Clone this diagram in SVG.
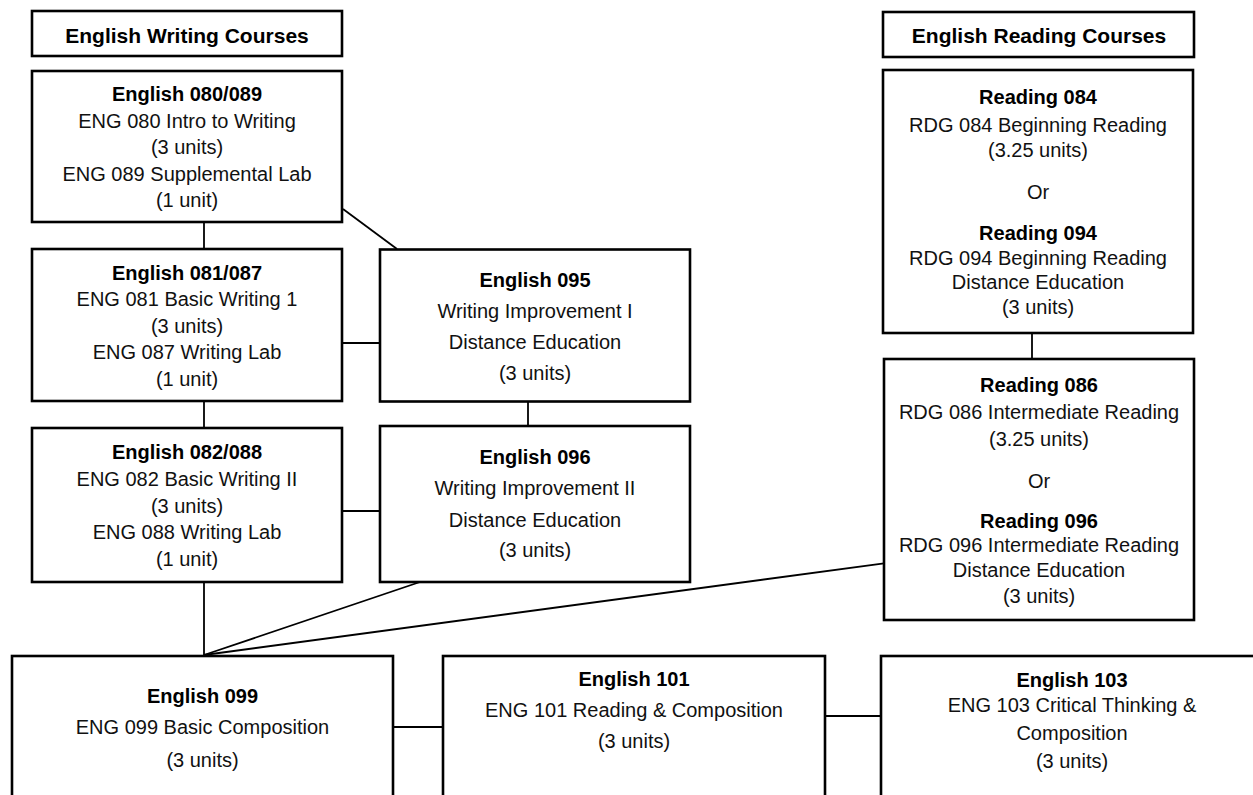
<svg xmlns="http://www.w3.org/2000/svg" width="1253" height="795" viewBox="0 0 1253 795">
<style>
.box{fill:#fff;stroke:#000;stroke-width:2.6}
.ln{stroke:#000;stroke-width:1.8;fill:none}
text{font-family:"Liberation Sans",Arial,sans-serif;font-size:20px;fill:#111;text-anchor:middle}
.b{font-weight:bold;fill:#000}
.t{font-weight:bold;font-size:21px;fill:#000}
</style>
<rect width="1253" height="795" fill="#fff"/>
<g id="connectors">
<line class="ln" x1="204" y1="222" x2="204" y2="249"/>
<line class="ln" x1="343" y1="209" x2="397" y2="249"/>
<line class="ln" x1="342" y1="343" x2="380" y2="343"/>
<line class="ln" x1="204" y1="401" x2="204" y2="428"/>
<line class="ln" x1="528" y1="402" x2="528" y2="426"/>
<line class="ln" x1="342" y1="511" x2="380" y2="511"/>
<line class="ln" x1="204" y1="582" x2="204" y2="655"/>
<line class="ln" x1="420" y1="582" x2="204" y2="655"/>
<line class="ln" x1="884" y1="563.3" x2="204" y2="655"/>
<line class="ln" x1="1032" y1="333" x2="1032" y2="359"/>
<line class="ln" x1="393" y1="727" x2="443" y2="727"/>
<line class="ln" x1="825" y1="716" x2="881" y2="716"/>
</g>
<g id="title-writing">
<rect class="box" x="32" y="11" width="310" height="45"/>
<text class="t" x="187" y="43">English Writing Courses</text>
</g>
<g id="title-reading">
<rect class="box" x="883" y="12" width="311" height="45"/>
<text class="t" x="1039" y="43">English Reading Courses</text>
</g>
<g id="eng080">
<rect class="box" x="32" y="71" width="310" height="151"/>
<text class="b" x="187" y="100.5">English 080/089</text>
<text x="187" y="127.5">ENG 080 Intro to Writing</text>
<text x="187" y="154">(3 units)</text>
<text x="187" y="180.5">ENG 089 Supplemental Lab</text>
<text x="187" y="206.5">(1 unit)</text>
</g>
<g id="eng081">
<rect class="box" x="32" y="249" width="310" height="152"/>
<text class="b" x="187" y="279.5">English 081/087</text>
<text x="187" y="306">ENG 081 Basic Writing 1</text>
<text x="187" y="332.5">(3 units)</text>
<text x="187" y="359">ENG 087 Writing Lab</text>
<text x="187" y="386">(1 unit)</text>
</g>
<g id="eng082">
<rect class="box" x="32" y="428" width="310" height="154"/>
<text class="b" x="187" y="459">English 082/088</text>
<text x="187" y="485.5">ENG 082 Basic Writing II</text>
<text x="187" y="512.5">(3 units)</text>
<text x="187" y="539">ENG 088 Writing Lab</text>
<text x="187" y="566">(1 unit)</text>
</g>
<g id="eng095">
<rect class="box" x="380" y="249.5" width="310" height="152"/>
<text class="b" x="535" y="286.5">English 095</text>
<text x="535" y="318">Writing Improvement I</text>
<text x="535" y="349">Distance Education</text>
<text x="535" y="380">(3 units)</text>
</g>
<g id="eng096">
<rect class="box" x="380" y="426" width="310" height="156"/>
<text class="b" x="535" y="464">English 096</text>
<text x="535" y="495">Writing Improvement II</text>
<text x="535" y="526.5">Distance Education</text>
<text x="535" y="557">(3 units)</text>
</g>
<g id="rdg084">
<rect class="box" x="883" y="70" width="310" height="263"/>
<text class="b" x="1038" y="103.5">Reading 084</text>
<text x="1038" y="131.5">RDG 084 Beginning Reading</text>
<text x="1038" y="156.5">(3.25 units)</text>
<text x="1038" y="199">Or</text>
<text class="b" x="1038" y="239.5">Reading 094</text>
<text x="1038" y="265">RDG 094 Beginning Reading</text>
<text x="1038" y="288.5">Distance Education</text>
<text x="1038" y="314">(3 units)</text>
</g>
<g id="rdg086">
<rect class="box" x="884" y="359" width="310" height="261"/>
<text class="b" x="1039" y="392">Reading 086</text>
<text x="1039" y="419">RDG 086 Intermediate Reading</text>
<text x="1039" y="445.5">(3.25 units)</text>
<text x="1039" y="488">Or</text>
<text class="b" x="1039" y="528">Reading 096</text>
<text x="1039" y="551.5">RDG 096 Intermediate Reading</text>
<text x="1039" y="576.5">Distance Education</text>
<text x="1039" y="602.5">(3 units)</text>
</g>
<g id="eng099">
<rect class="box" x="12" y="656" width="381" height="160"/>
<text class="b" x="202.5" y="703">English 099</text>
<text x="202.5" y="734">ENG 099 Basic Composition</text>
<text x="202.5" y="766.5">(3 units)</text>
</g>
<g id="eng101">
<rect class="box" x="443" y="656" width="382" height="160"/>
<text class="b" x="634" y="685.5">English 101</text>
<text x="634" y="716.5">ENG 101 Reading &amp; Composition</text>
<text x="634" y="748">(3 units)</text>
</g>
<g id="eng103">
<rect class="box" x="881" y="656" width="390" height="160"/>
<text class="b" x="1072" y="686.5">English 103</text>
<text x="1072" y="712">ENG 103 Critical Thinking &amp;</text>
<text x="1072" y="740">Composition</text>
<text x="1072" y="767.5">(3 units)</text>
</g>
</svg>
